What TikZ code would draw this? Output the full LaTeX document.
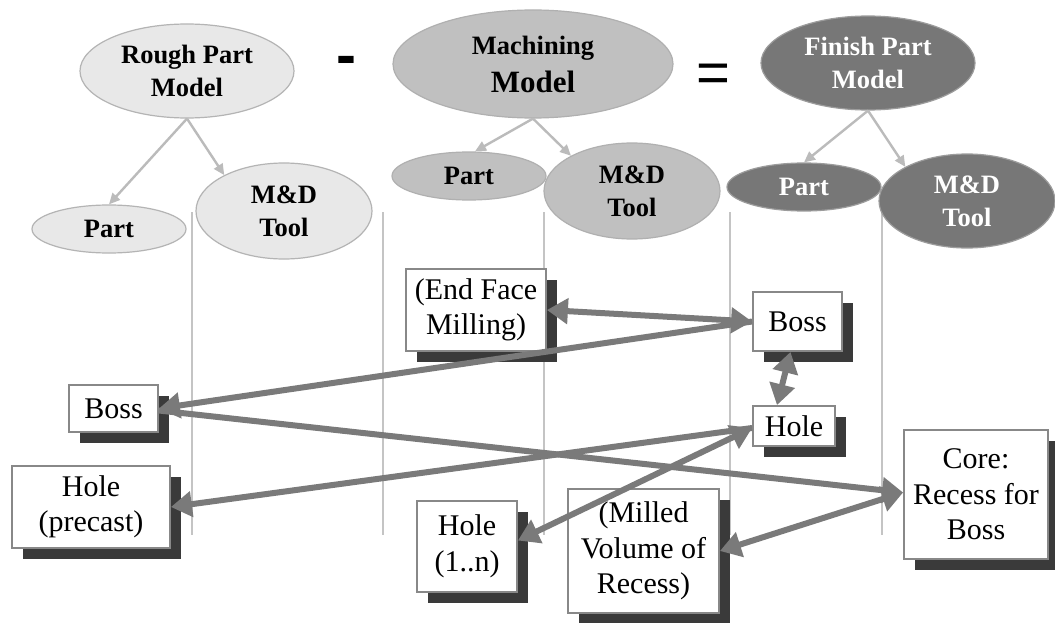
\documentclass[tikz,border=0pt]{standalone}
\usepackage{fontspec}
\setmainfont{Liberation Serif}
\newfontfamily\symfont{Liberation Sans}
\usetikzlibrary{shapes.geometric,arrows.meta,shadows}
\definecolor{roughfill}{HTML}{E8E8E8}
\definecolor{roughline}{HTML}{B4B4B4}
\definecolor{machfill}{HTML}{C0C0C0}
\definecolor{machline}{HTML}{B0B0B0}
\definecolor{finfill}{HTML}{777777}
\definecolor{finline}{HTML}{9C9C9C}
\definecolor{lanec}{HTML}{C4C4C4}
\definecolor{treec}{HTML}{BBBBBB}
\definecolor{boxline}{HTML}{888888}
\definecolor{shadowc}{HTML}{3A3A3A}
\definecolor{connc}{HTML}{7A7A7A}
\begin{document}
\begin{tikzpicture}[x=1pt,y=-1pt,
  ell/.style={ellipse,draw,line width=1.2pt,inner sep=0pt,align=center,font=\bfseries\fontsize{26.5}{33}\selectfont},
  roughell/.style={ell,fill=roughfill,draw=roughline},
  machell/.style={ell,fill=machfill,draw=machline},
  finell/.style={ell,fill=finfill,draw=finline,text=white},
  lane/.style={draw=lanec,line width=2.2pt},
  treearrow/.style={draw=treec,line width=2.4pt,arrows={-Triangle[length=11pt,width=10pt]}},
  box/.style={rectangle,draw=boxline,line width=1.8pt,fill=white,inner sep=0pt,align=center,
    font=\fontsize{30}{35.5}\selectfont,
    drop shadow={shadow xshift=11pt,shadow yshift=-11pt,fill=shadowc,opacity=1}},
  conn/.style={draw=connc,line width=6pt,arrows={-Triangle[length=21pt,width=25pt]}},
  dconn/.style={draw=connc,line width=6pt,arrows={Triangle[length=21pt,width=25pt]-Triangle[length=21pt,width=25pt]}},
  sign/.style={inner sep=0pt,anchor=base}
]
\useasboundingbox (0,0) rectangle (1055,623);
\fill[white] (0,0) rectangle (1055,623);

% lanes
\foreach \x/\n in {192/a,383/b,544/c,730/d,882/e}{
  \coordinate (lt\n) at (\x,212);
  \coordinate (lb\n) at (\x,535);
  \draw[lane] (lt\n) -- (lb\n);
}

% ellipses
\node[roughell,minimum width=214pt,minimum height=94pt] (rpm) at (187,71) {Rough Part\\Model};
\node[roughell,minimum width=154pt,minimum height=48pt] (rpart) at (109,229) {Part};
\node[roughell,minimum width=176pt,minimum height=96pt] (rmd) at (284,211) {M\&D\\Tool};

\node[machell,minimum width=280pt,minimum height=108pt,font=\bfseries\fontsize{26.5}{38}\selectfont] (mm) at (533,64) {Machining\\\fontsize{31}{38}\selectfont Model};
\node[machell,minimum width=154pt,minimum height=48pt] (mpart) at (469,176) {Part};
\node[machell,minimum width=176pt,minimum height=96pt] (mmd) at (632,191) {M\&D\\Tool};

\node[finell,minimum width=214pt,minimum height=94pt] (fpm) at (868,63) {Finish Part\\Model};
\node[finell,minimum width=154pt,minimum height=48pt] (fpart) at (804,187) {Part};
\node[finell,minimum width=176pt,minimum height=94pt] (fmd) at (967,201) {M\&D\\Tool};

% signs
\node[sign,font=\symfont\bfseries\fontsize{60}{60}\selectfont] (minus) at (346,76) {-};
\node[sign,font=\symfont\fontsize{58}{58}\selectfont] (equal) at (713,93) {=};

% tree arrows
\draw[treearrow] (rpm.south) -- (rpart.north);
\draw[treearrow] (rpm.south) -- (rmd.149);
\draw[treearrow] (mm.south) -- ([xshift=6pt]mpart.north);
\draw[treearrow] (mm.south) -- (mmd.150);
\draw[treearrow] (fpm.south) -- (fpart.north);
\draw[treearrow] (fpm.south) -- (fmd.151);

% boxes
\node[box,minimum width=140pt,minimum height=82pt] (endface) at (476,310) {(End Face\\Milling)};
\node[box,minimum width=89pt,minimum height=59pt] (bossF) at (797.5,321.5) {Boss};
\node[box,minimum width=82pt,minimum height=40pt] (holeF) at (794,426) {Hole};
\node[box,minimum width=89pt,minimum height=47pt] (bossR) at (113.5,408.5) {Boss};
\node[box,minimum width=158pt,minimum height=82pt] (holeP) at (91,507) {Hole\\(precast)};
\node[box,minimum width=100pt,minimum height=91pt] (hole1n) at (467,546.5) {Hole\\(1..n)};
\node[box,minimum width=151pt,minimum height=124pt] (milled) at (643.5,551) {(Milled\\Volume of\\Recess)};
\node[box,minimum width=144pt,minimum height=129pt] (core) at (976,494.5) {Core:\\Recess for\\Boss};

% connectors
\draw[dconn] (endface.east) -- (bossF.west);
\draw[conn] (bossF.west) -- (bossR.east);
\draw[dconn] ([xshift=-7pt]bossF.south) -- ([xshift=-17pt]holeF.north);
\draw[conn] ([yshift=-2pt]bossR.east) -- ([yshift=2pt]core.west);
\draw[conn] ([yshift=-2pt]holeF.west) -- (holeP.east);
\draw[dconn] ([yshift=6pt]hole1n.east) -- ([yshift=-2pt]holeF.west);
\draw[dconn] (milled.east) -- ([yshift=2pt]core.west);
\end{tikzpicture}
\end{document}
